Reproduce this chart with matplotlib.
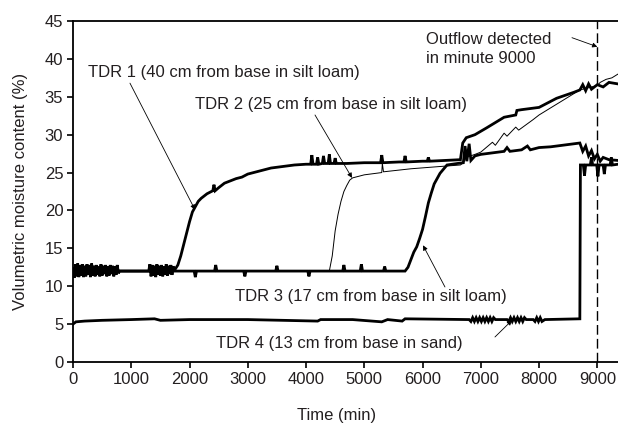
import matplotlib
matplotlib.use("Agg")
import matplotlib.pyplot as plt

plt.rcParams['font.family'] = ['Liberation Sans', 'DejaVu Sans']

TEXT_COLOR = '#231f20'

# TDR 1 (40 cm from base in silt loam)
tdr1_t = [0, 20, 40, 60, 80, 100, 120, 140, 160, 180, 200, 220, 240, 260, 280, 300,
          320, 340, 360, 380, 400, 420, 440, 460, 480, 500, 520, 540, 560, 580, 600,
          620, 640, 660, 680, 700, 720, 740, 760, 780, 800,
          1300, 1320, 1340, 1360, 1380, 1400, 1420, 1440, 1460, 1480, 1500, 1520,
          1540, 1560, 1580, 1600, 1620, 1640, 1660, 1680, 1700, 1720, 1750,
          1800, 1850, 1900, 1950, 2000, 2050, 2100, 2150, 2200, 2300,
          2400, 2420, 2440, 2500, 2600, 2700, 2800, 2900, 3000, 3200, 3400, 3600,
          3800, 4000, 4080, 4100, 4120, 4180, 4200, 4220, 4280, 4300, 4320, 4380,
          4400, 4420, 4480, 4500, 4520, 4700, 5000, 5280, 5300, 5320,
          5600, 5680, 5700, 5720, 6000, 6080, 6100, 6120, 6400, 6650, 6690, 6750,
          6900, 7100, 7400, 7600, 7620, 7700, 8000, 8050, 8300, 8600, 8700, 8750,
          8800, 8850, 8900, 9000, 9100, 9200, 9355]
tdr1_v = [12.3, 11.1, 12.9, 11.3, 13.0, 11.2, 12.8, 11.4, 12.9, 11.2, 12.7, 11.3, 12.9,
          11.5, 12.8, 11.2, 13.0, 11.4, 12.7, 11.3, 12.8, 11.5, 12.6, 11.3, 12.9, 11.4,
          12.7, 11.6, 12.8, 11.3, 12.6, 11.4, 12.8, 11.6, 12.7, 11.3, 12.6, 11.5, 12.8,
          11.7, 12.0,
          12.0, 12.9, 11.3, 12.8, 11.4, 12.7, 11.2, 12.9, 11.5, 12.7, 11.4, 12.8,
          11.3, 12.6, 11.5, 12.9, 11.4, 12.7, 11.6, 12.8, 11.5, 12.6, 12.2,
          12.8, 14.0, 15.5, 17.0, 18.5, 19.8, 20.5, 21.2, 21.6, 22.2,
          22.6, 23.4, 22.6, 23.0, 23.6, 23.9, 24.2, 24.4, 24.8, 25.2, 25.6, 25.8,
          26.0, 26.1, 26.1, 27.3, 26.1, 26.1, 27.0, 26.1, 26.2, 27.2, 26.2, 26.2,
          27.4, 26.2, 26.2, 26.9, 26.2, 26.2, 26.3, 26.3, 27.3, 26.3,
          26.4, 26.4, 27.2, 26.4, 26.5, 26.5, 27.0, 26.5, 26.6, 26.7, 28.9, 29.6,
          30.0, 30.9, 32.3, 32.6, 33.2, 33.3, 33.6, 33.8, 34.8, 35.6, 35.9, 36.6,
          35.8, 36.7, 36.0, 36.6, 36.3, 36.9, 36.7]

# TDR 2 (25 cm from base in silt loam)
tdr2_t = [0, 4400, 4450, 4500, 4550, 4600, 4650, 4700, 4750, 4800, 5000, 5300, 5310,
          5330, 5800, 6300, 6650, 6700, 6750, 6900, 7000, 7200, 7250, 7400, 7450,
          7600, 7650, 7900, 8000, 8700, 9000, 9050, 9150, 9250, 9355]
tdr2_v = [12.0, 12.0, 14.0, 17.3, 19.5, 21.2, 22.5, 23.3, 24.0, 24.3, 24.7, 25.0, 26.2,
          25.1, 25.5, 25.8, 26.0, 26.3, 27.0, 27.4, 27.7, 29.0, 28.6, 30.2, 29.8,
          31.0, 30.6, 32.0, 32.6, 35.9, 36.5, 36.9, 37.3, 37.5, 38.0]

# TDR 3 (17 cm from base in silt loam)
tdr3_t = [0, 1800, 2080, 2100, 2120, 2430, 2450, 2470, 2930, 2950, 2970, 3480, 3500,
          3520, 4030, 4050, 4070, 4630, 4650, 4670, 4930, 4950, 4970, 5330, 5350,
          5370, 5700, 5750, 5800, 5850, 5900, 5950, 6000,
          6050, 6100, 6150, 6200, 6300, 6420, 6600, 6700, 6730, 6760, 6800, 6830,
          6900, 7000, 7200, 7400, 7450, 7500, 7700, 7800, 7850, 8000, 8200, 8400,
          8600, 8700, 8750, 8800, 8850, 8900, 8950, 9000, 9050, 9100, 9200, 9355]
tdr3_v = [12.0, 12.0, 12.0, 11.2, 12.0, 12.0, 12.8, 12.0, 12.0, 11.3, 12.0, 12.0, 12.7,
          12.0, 12.0, 11.3, 12.0, 12.0, 12.8, 12.0, 12.0, 12.9, 12.0, 12.0, 12.6,
          12.0, 12.0, 12.5, 13.5, 14.5, 15.2, 16.3, 17.5,
          19.2, 21.0, 22.3, 23.5, 24.9, 26.0, 26.2, 26.3, 28.5, 26.5, 28.8, 26.6,
          27.2, 27.4, 27.6, 27.8, 28.3, 27.8, 28.0, 28.5, 28.0, 28.3, 28.4, 28.6,
          28.8, 28.9, 27.8, 28.5, 27.2, 27.9, 26.8, 27.4, 26.5, 27.0, 26.7, 26.6]

# TDR 4 (13 cm from base in sand)
tdr4_t = [0, 50, 200, 500, 1000, 1400, 1500, 2000, 3000, 4200, 4250, 4800, 5300,
          5400, 5650, 5700, 6800, 6830, 6860, 6890, 6920, 6950, 6980, 7010, 7040,
          7070, 7100, 7130, 7160, 7190, 7220, 7250, 7450, 7480, 7510, 7540, 7570,
          7600, 7630, 7660, 7690, 7720, 7750, 7780, 7900, 7930, 7960, 7990, 8020,
          8050, 8100, 8700, 8710, 8760, 8780, 8800, 8880, 8900, 8920, 8990, 9010,
          9030, 9100, 9120, 9140, 9220, 9240, 9260, 9355]
tdr4_v = [5.0, 5.3, 5.4, 5.5, 5.6, 5.7, 5.5, 5.6, 5.6, 5.4, 5.6, 5.6, 5.3,
          5.6, 5.4, 5.7, 5.6, 5.35, 5.85, 5.35, 5.85, 5.35, 5.85, 5.35, 5.85,
          5.35, 5.85, 5.35, 5.85, 5.35, 5.85, 5.6, 5.6, 5.35, 5.85, 5.35, 5.85,
          5.35, 5.85, 5.35, 5.85, 5.35, 5.85, 5.6, 5.6, 5.35, 5.85, 5.35, 5.85,
          5.35, 5.6, 5.7, 26.0, 26.0, 24.6, 26.0, 26.0, 27.0, 26.0, 26.0, 24.5,
          26.0, 26.0, 24.8, 26.0, 26.0, 27.0, 26.0, 26.1]

outflow_minute = 9000

# label text, text anchor (left, centre) and arrow (start, tip)
labels = [
    ('TDR 1 (40 cm from base in silt loam)', (257, 38.2), (978, 36.8), (2094, 20.1)),
    ('TDR 2 (25 cm from base in silt loam)', (2094, 34.0), (4154, 32.6), (4789, 24.3)),
    ('TDR 3 (17 cm from base in silt loam)', (2781, 8.6), (6385, 9.9), (6008, 15.4)),
    ('TDR 4 (13 cm from base in sand)', (2455, 2.5), (7243, 3.3), (7535, 5.5)),
    ('Outflow detected\nin minute 9000', (6059, 41.3), (8565, 42.8), (9000, 41.6)),
]

fig = plt.figure(figsize=(6.18, 4.28), dpi=100)
ax = fig.add_axes([0.1181, 0.1542, 0.8819, 0.7967])

ax.plot(tdr4_t, tdr4_v, color='k', lw=2.0, solid_joinstyle='miter')
ax.plot(tdr3_t, tdr3_v, color='k', lw=2.0, solid_joinstyle='miter')
ax.plot(tdr2_t, tdr2_v, color='k', lw=0.7)
ax.plot(tdr1_t, tdr1_v, color='k', lw=2.0, solid_joinstyle='miter')

ax.axvline(outflow_minute, color='k', lw=1.0, dashes=(7, 3))

for text, pos, start, tip in labels:
    ax.text(pos[0], pos[1], text, ha='left', va='center', fontsize=12,
            color=TEXT_COLOR, linespacing=1.35)
    ax.annotate('', xy=tip, xytext=start,
                arrowprops=dict(arrowstyle='-|>', lw=0.6, color='k',
                                mutation_scale=7, shrinkA=0, shrinkB=0))

ax.set_xlim(0, 9355)
ax.set_ylim(0, 45)
ax.set_xticks(range(0, 9001, 1000))
ax.set_yticks(range(0, 46, 5))

ax.spines['right'].set_visible(False)
for side in ['left', 'bottom', 'top']:
    ax.spines[side].set_linewidth(1.3)
ax.tick_params(direction='out', length=4, width=1.2, labelsize=12,
               labelcolor=TEXT_COLOR, pad=3)

ax.set_xlabel('Time (min)', fontsize=12, color=TEXT_COLOR)
ax.xaxis.set_label_coords(0.483, -0.135)
ax.set_ylabel('Volumetric moisture content (%)', fontsize=12, color=TEXT_COLOR)
ax.yaxis.set_label_coords(-0.083, 0.5)

fig.savefig('out.png', dpi=100, facecolor='white')
